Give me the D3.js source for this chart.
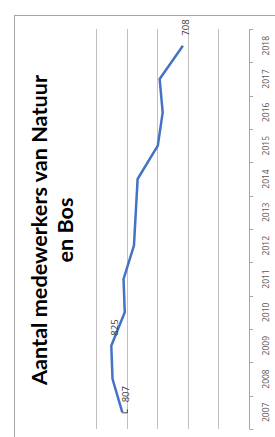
<!DOCTYPE html>
<html><head><meta charset="utf-8">
<script src="https://cdn.jsdelivr.net/npm/d3@7"></script>
<style>html,body{margin:0;padding:0;background:#fff;overflow:hidden}</style>
</head><body>
<script>
const years = ["2007","2008","2009","2010","2011","2012","2013","2014","2015","2016","2017","2018"];
const values = [807, 823, 825, 803, 805, 788, 785, 782, 749, 741, 746, 708];
const labelYears = ["2007","2009","2018"];
const gridValues = [650, 700, 750, 800, 850];
const titleLines = ["Aantal medewerkers van Natuur", "en Bos"];

const W = 275, H = 437;
const svg = d3.select("body").append("svg").attr("width", W).attr("height", H);
svg.append("rect").attr("width", W).attr("height", H).attr("fill", "#fff");

// chart frame (cropped)
svg.append("rect").attr("x", 14.5).attr("y", 15.5).attr("width", 400).attr("height", 600)
  .attr("fill", "none").attr("stroke", "#a6a6a6").attr("stroke-width", 1);

// value axis runs right->left (chart rotated 90° CCW)
const x = d3.scaleLinear().domain([600, 850]).range([249, 96]);
const y = d3.scaleBand().domain(years).range([429, 29]).padding(0);
const cy = d => y(d) + y.bandwidth() / 2;

// gridlines
svg.append("g").selectAll("line").data(gridValues).join("line")
  .attr("x1", d => Math.round(x(d)) + 0.5).attr("x2", d => Math.round(x(d)) + 0.5)
  .attr("y1", 29).attr("y2", 429)
  .attr("stroke", "#c0c0c0").attr("stroke-width", 1);

// category axis
const ax = svg.append("g");
const axX = Math.round(x(600)) + 0.5;
ax.append("line").attr("x1", axX).attr("x2", axX).attr("y1", 29).attr("y2", 429)
  .attr("stroke", "#a6a6a6");
const tickPos = years.map(d => y(d)).concat([y(years[0]) + y.bandwidth()]);
ax.selectAll("line.t").data(tickPos).join("line").attr("class", "t")
  .attr("x1", axX).attr("x2", axX + 3.5)
  .attr("y1", d => Math.round(d) + 0.5).attr("y2", d => Math.round(d) + 0.5)
  .attr("stroke", "#a6a6a6");
ax.selectAll("text").data(years).join("text")
  .attr("transform", d => `translate(269,${cy(d)}) rotate(-90)`)
  .attr("text-anchor", "middle")
  .attr("font-family", "Open Sans, Liberation Sans, sans-serif")
  .attr("font-size", 8.5).attr("fill", "#595959")
  .text(d => d);

// line
const line = d3.line().x((d, i) => x(d)).y((d, i) => cy(years[i]));
svg.append("path").datum(values).attr("d", line)
  .attr("fill", "none").attr("stroke", "#4472C4").attr("stroke-width", 2.5)
  .attr("stroke-linejoin", "round");

// data labels
const lab = svg.append("g");
labelYears.forEach(yr => {
  const i = years.indexOf(yr);
  const px = x(values[i]), py = cy(yr);
  lab.append("text")
    .attr("transform", `translate(${px + 3},${py - 10}) rotate(-90)`)
    .attr("text-anchor", "start").attr("dominant-baseline", "central")
    .attr("font-family", "Open Sans, Liberation Sans, sans-serif")
    .attr("font-size", 9.5).attr("fill", "#404040")
    .text(values[i]);
});
// small leader line at first point
{
  const px = x(values[0]), py = cy(years[0]);
  lab.append("path").attr("d", `M${px},${py + 0.5}H${px + 5}V${py - 3}`)
    .attr("fill", "none").attr("stroke", "#404040").attr("stroke-width", 1);
}

// title (rotated)
const tg = svg.append("g").attr("transform", "translate(46.5,230) rotate(-90)");
const tt = tg.selectAll("text").data(titleLines).join("text")
  .attr("x", 0).attr("y", (d, i) => i * 26)
  .attr("text-anchor", "middle")
  .attr("font-family", "Lato, Open Sans, sans-serif").attr("font-weight", "bold")
  .attr("font-size", 20).attr("fill", "#000")
  .text(d => d);
const w0 = tt.nodes()[0].getComputedTextLength();
const fs = Math.min(22, 20 * 310 / w0);
tt.attr("font-size", fs);
</script>
</body></html>
